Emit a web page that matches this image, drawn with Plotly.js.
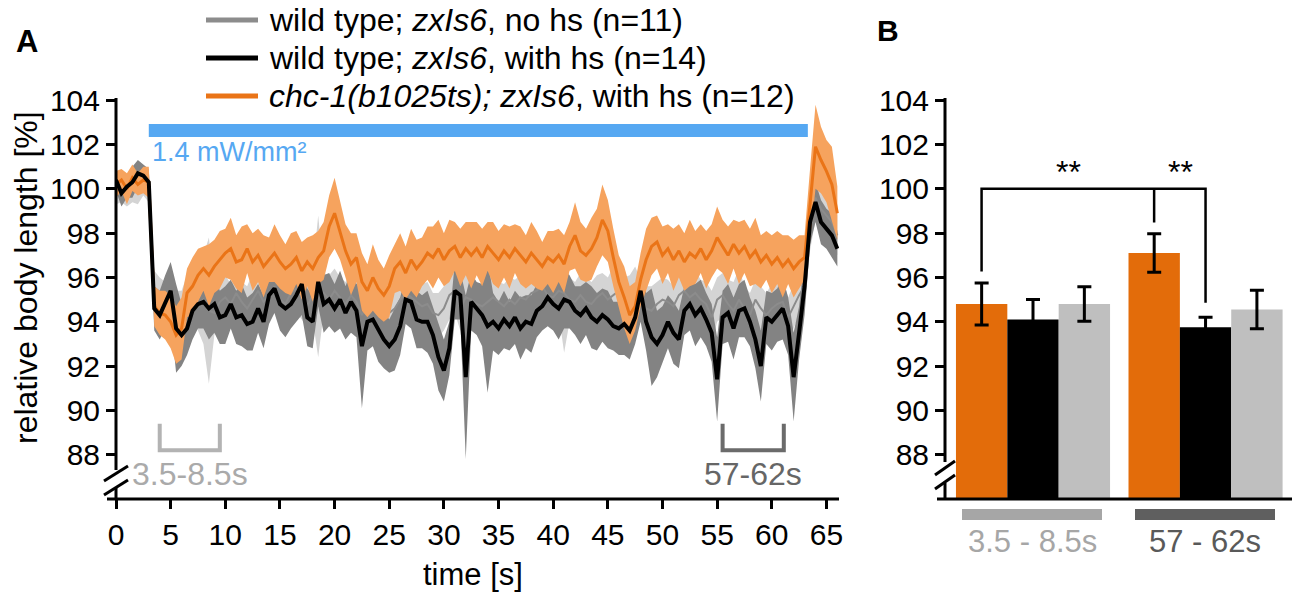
<!DOCTYPE html>
<html><head><meta charset="utf-8">
<script src="https://cdn.plot.ly/plotly-3.0.1.min.js"></script>
<style>html,body{margin:0;padding:0;background:#fff;} #chart{width:1300px;height:598px;}</style>
</head><body><div id="chart"></div>
<script>
// ---------- Panel A data (sampled every 0.5 s, t = 0 ... 66 s) ----------
const timeStep = 0.5;
const orangeMean = [
100.2,100.4,100.0,100.5,100.2,100.4,100.3,94.7,94.4,94.3,
94.0,93.4,93.7,95.3,95.6,96.1,96.4,96.1,96.5,96.8,
97.1,97.3,96.7,96.8,97.3,96.7,97.0,96.5,96.8,97.1,
96.7,96.4,96.6,96.9,96.3,96.7,96.4,96.9,97.2,98.3,
98.9,98.1,97.2,96.6,96.9,95.8,95.4,96.0,95.5,95.2,
95.6,96.4,96.7,96.2,96.8,96.4,96.7,97.1,96.9,97.3,
96.8,97.2,97.4,96.9,97.3,97.0,97.3,96.9,97.4,97.1,
96.8,97.2,96.9,97.3,97.0,96.7,97.1,96.8,96.5,96.9,
96.7,97.0,96.6,97.4,97.9,97.2,97.0,97.3,97.8,98.6,
98.1,96.9,95.8,95.1,94.3,94.7,95.9,96.8,97.4,97.6,
97.0,97.3,96.8,97.2,96.7,97.1,96.9,97.3,96.8,97.2,
97.8,97.4,97.0,97.5,97.1,97.4,96.9,97.2,96.7,97.0,
96.6,96.9,96.5,96.8,96.4,96.7,96.9,99.3,101.9,101.3,
100.8,100.2,98.9];
const orangeSem = [
0.6,0.5,0.7,0.6,0.5,0.6,0.7,0.9,1.0,1.1,
1.2,1.3,1.4,1.1,1.3,1.2,1.0,1.4,1.2,1.3,
1.1,1.4,1.2,1.5,1.1,1.3,1.2,1.4,1.0,1.3,
1.2,1.1,1.4,1.2,1.3,1.1,1.5,1.2,1.3,1.4,
1.6,1.3,1.2,1.4,1.1,1.3,1.2,1.5,1.3,1.2,
1.4,1.1,1.3,1.2,1.4,1.3,1.1,1.2,1.4,1.3,
1.2,1.4,1.1,1.3,1.2,1.5,1.2,1.3,1.1,1.4,
1.3,1.2,1.4,1.1,1.3,1.2,1.4,1.3,1.1,1.2,
1.4,1.2,1.3,1.1,1.5,1.3,1.2,1.4,1.3,1.6,
1.4,1.3,1.2,1.4,1.3,1.1,1.2,1.4,1.3,1.2,
1.3,1.1,1.4,1.2,1.3,1.5,1.2,1.1,1.3,1.2,
1.4,1.2,1.3,1.1,1.4,1.2,1.3,1.5,1.2,1.1,
1.3,1.2,1.4,1.1,1.3,1.2,1.0,1.6,1.9,1.5,
1.4,1.7,1.2];
const blackMean = [
100.4,99.8,100.1,100.3,100.7,100.6,100.3,94.6,94.3,94.9,
95.4,93.7,93.4,93.7,94.5,94.8,94.9,94.6,94.8,94.2,
94.3,94.8,94.2,94.3,93.9,94.0,94.6,94.0,95.2,95.5,
94.8,94.6,94.8,95.2,95.7,94.2,94.0,95.8,94.8,95.0,
94.6,95.0,94.4,94.9,94.5,92.9,94.0,94.1,93.6,93.2,
92.9,93.2,93.8,95.0,94.9,94.1,94.0,94.0,93.4,92.4,
91.8,92.8,95.4,95.2,91.5,94.9,94.6,94.3,93.8,94.0,
93.7,94.1,93.8,94.2,93.7,94.0,93.9,94.5,94.7,95.1,
94.8,94.6,95.0,94.9,94.5,94.3,94.6,94.2,94.0,94.3,
94.1,93.8,93.7,93.9,93.6,94.2,95.4,94.0,93.3,93.0,
93.4,94.0,93.5,93.2,94.5,94.8,94.3,94.6,94.1,93.5,
91.4,94.2,94.4,93.7,94.5,94.6,94.0,93.2,92.0,94.2,
94.0,94.3,94.6,93.8,91.5,93.5,95.6,98.5,99.4,98.5,
98.2,97.9,97.3];
const blackSem = [
0.5,0.6,0.5,0.7,0.6,0.5,0.6,1.0,1.1,1.2,
1.3,2.0,1.4,1.2,1.3,1.1,1.2,1.4,1.3,1.2,
1.3,1.1,1.2,1.4,1.2,1.3,1.1,1.2,1.3,1.1,
1.2,1.3,1.1,1.2,1.4,1.3,1.2,1.1,1.3,1.2,
1.1,1.3,1.2,1.4,1.2,2.8,1.3,1.2,1.4,1.3,
1.2,1.4,1.3,1.1,1.2,1.3,1.2,1.4,1.3,1.5,
1.4,1.2,1.3,1.1,3.7,1.3,1.2,1.4,3.0,1.3,
1.2,1.3,1.1,1.2,1.4,1.2,1.3,1.2,1.1,1.3,
1.2,1.4,1.3,1.2,1.1,1.3,1.2,1.4,1.3,1.2,
1.3,1.1,1.2,1.4,1.3,1.2,1.4,1.3,2.2,1.5,
1.3,1.2,1.4,1.3,1.1,1.2,1.4,1.3,1.2,1.3,
1.9,1.2,1.3,1.4,1.2,1.3,1.1,1.3,1.6,1.2,
1.3,1.2,1.4,1.3,2.0,1.2,1.3,1.0,0.9,1.0,
0.9,1.0,0.8];
const grayMean = [
99.9,100.1,99.8,100.2,100.0,100.3,100.1,95.3,94.9,94.6,
94.8,94.3,94.4,94.9,95.1,94.7,95.0,94.5,94.4,94.9,
95.1,94.8,95.3,94.9,94.6,95.0,95.4,94.9,95.2,95.6,
95.0,94.8,95.3,95.5,95.1,94.7,95.2,95.6,95.3,95.0,
95.4,95.1,94.8,95.2,94.9,94.3,94.8,94.9,94.5,94.2,
94.4,94.6,95.0,95.3,95.1,94.9,94.7,94.8,94.4,94.3,
94.6,95.2,95.4,94.6,95.1,95.0,94.8,94.7,94.9,95.1,
94.9,94.7,95.0,94.8,95.1,95.0,95.3,95.4,95.6,95.2,
95.1,95.4,95.3,95.0,94.9,95.2,94.9,94.8,95.1,95.3,
95.0,95.2,95.4,94.9,95.1,95.5,95.0,94.6,94.5,94.8,
95.0,94.9,94.7,95.2,95.4,95.1,95.3,95.0,94.8,94.2,
95.0,95.2,94.8,94.5,95.0,94.6,94.3,95.0,94.6,94.3,
94.6,94.8,94.9,94.2,94.7,95.2,95.6,98.3,99.6,99.1,
98.8,98.5,97.9];
const graySem = [
0.6,0.7,0.6,0.8,0.7,0.6,0.7,1.0,1.1,1.2,
1.8,1.1,1.0,1.2,1.0,1.1,2.0,3.3,1.0,0.9,
1.0,0.9,1.1,0.9,1.0,1.2,0.9,1.0,0.9,1.1,
1.0,1.0,0.9,1.1,1.0,1.0,1.1,3.2,0.9,1.1,
1.0,0.9,1.0,1.1,1.0,1.0,1.1,0.9,1.0,1.0,
1.1,1.0,0.9,1.0,1.0,1.1,1.0,1.0,0.9,1.0,
1.0,1.1,1.0,1.0,1.2,1.0,0.9,1.0,1.1,1.0,
0.9,1.0,1.0,1.1,1.0,1.0,0.9,1.1,1.0,1.0,
1.1,1.0,2.7,1.0,0.9,1.0,1.1,1.0,1.0,0.9,
1.0,1.3,1.4,1.1,1.0,1.0,0.9,1.0,1.1,1.0,
1.0,1.0,0.9,1.1,1.0,1.0,1.0,0.9,1.0,1.2,
1.0,1.0,1.1,1.3,1.4,1.0,1.0,0.9,1.0,1.0,
1.1,1.0,1.0,0.9,1.0,0.9,1.0,1.1,1.0,1.0,
0.9,1.1,0.9];
const timeTicks = [0,5,10,15,20,25,30,35,40,45,50,55,60,65];
const lengthTicks = [88,90,92,94,96,98,100,102,104];

// ---------- Panel B data ----------
const barGroups = ['3.5 - 8.5s', '57 - 62s'];
const barOrange = [94.8, 97.1];
const errOrange = [0.95, 0.87];
const barBlack = [94.1, 93.75];
const errBlack = [0.9, 0.45];
const barGray = [94.8, 94.55];
const errGray = [0.78, 0.87];

// ---------- helpers ----------
const W = 1300, H = 598;
const FONT = 'Liberation Sans, Arial, sans-serif';
const px = v => v / W;
const py = v => 1 - v / H;
const time = orangeMean.map((_, i) => i * timeStep);

function band(mean, sem, color) {
  const up = mean.map((m, i) => m + sem[i]);
  const lo = mean.map((m, i) => m - sem[i]);
  return {
    x: time.concat(time.slice().reverse()),
    y: up.concat(lo.slice().reverse()),
    type: 'scatter', mode: 'lines', fill: 'toself', fillcolor: color,
    line: {width: 0, color: color}, hoverinfo: 'skip', xaxis: 'x', yaxis: 'y'
  };
}
function meanLine(mean, color, width) {
  return {x: time, y: mean, type: 'scatter', mode: 'lines',
    line: {color: color, width: width}, xaxis: 'x', yaxis: 'y'};
}

const traces = [
  band(grayMean, graySem, '#d4d4d4'),
  band(blackMean, blackSem, '#838383'),
  meanLine(grayMean, '#8c8c8c', 2),
  band(orangeMean, orangeSem, '#f6a35e'),
  meanLine(orangeMean, '#ea7417', 3),
  meanLine(blackMean, '#000000', 4),
];

const barCommon = {type: 'bar', xaxis: 'x2', yaxis: 'y2', x: barGroups};
traces.push(Object.assign({}, barCommon, {y: barOrange, marker: {color: '#e36c0a'},
  error_y: {type: 'data', array: errOrange, color: '#000', thickness: 3, width: 7}}));
traces.push(Object.assign({}, barCommon, {y: barBlack, marker: {color: '#000000'},
  error_y: {type: 'data', array: errBlack, color: '#000', thickness: 3, width: 7}}));
traces.push(Object.assign({}, barCommon, {y: barGray, marker: {color: '#bfbfbf'},
  error_y: {type: 'data', array: errGray, color: '#000', thickness: 3, width: 7}}));

const axisBottom = 499, axisTop = 98;
const yDomain = [py(axisBottom), py(axisTop)];
const yRange = [86.0, 104.1];

function pline(x0, y0, x1, y1, color, width) {
  return {type: 'line', xref: 'paper', yref: 'paper', x0: px(x0), y0: py(y0), x1: px(x1), y1: py(y1),
    line: {color: color || '#000', width: width || 3}};
}

const shapes = [
  // Panel A axes with break
  pline(107, axisBottom, 839, axisBottom),
  pline(116, axisTop, 116, 470),
  pline(104, 481, 128, 466),
  pline(104, 495, 128, 480),
  pline(116, 488, 116, axisBottom),
  // Panel B axes with break
  pline(937, axisBottom, 1292, axisBottom),
  pline(945, axisTop, 945, 462),
  pline(935, 475, 955, 461),
  pline(935, 489, 955, 475),
  pline(945, 483, 945, axisBottom),
  // light stimulus bar
  {type: 'rect', xref: 'x', yref: 'y', x0: 3.0, x1: 63.3, y0: 102.34, y1: 102.93,
   fillcolor: '#56a8f2', line: {width: 0}},
  // analysis window brackets
  {type: 'path', xref: 'x', yref: 'y', path: 'M 4.0 89.4 L 4.0 88.2 L 9.5 88.2 L 9.5 89.4',
   line: {color: '#b3b3b3', width: 4}},
  {type: 'path', xref: 'x', yref: 'y', path: 'M 55.5 89.4 L 55.5 88.2 L 61.1 88.2 L 61.1 89.4',
   line: {color: '#6b6b6b', width: 4}},
  // legend swatches
  pline(206, 20, 258, 20, '#8c8c8c', 5),
  pline(206, 58, 258, 58, '#000000', 5),
  pline(206, 96, 258, 96, '#ea7417', 5),
  // significance brackets (B)
  {type: 'path', xref: 'x2', yref: 'y2',
   path: 'M -0.298 96.27 L -0.298 100.0 L 1.0 100.0 L 1.0 94.86 M 0.702 100.0 L 0.702 98.48',
   line: {color: '#000', width: 2.5}},
  // window bars under B
  {type: 'rect', xref: 'paper', yref: 'paper', x0: px(962), x1: px(1102), y0: py(520), y1: py(509),
   fillcolor: '#a6a6a6', line: {width: 0}},
  {type: 'rect', xref: 'paper', yref: 'paper', x0: px(1135), x1: px(1275), y0: py(520), y1: py(509),
   fillcolor: '#5f5f5f', line: {width: 0}},
];

function ann(text, x, y, opts) {
  return Object.assign({text: text, x: x, y: y, xref: 'paper', yref: 'paper', showarrow: false,
    xanchor: 'center', yanchor: 'middle', font: {family: FONT, size: 30, color: '#000'}}, opts || {});
}

const annotations = [
  ann('<b>A</b>', px(27), py(42), {font: {family: FONT, size: 31, color: '#000'}}),
  ann('<b>B</b>', px(888), py(31), {font: {family: FONT, size: 30, color: '#000'}}),
  ann('wild type; <i>zxIs6</i>, no hs (n=11)', px(267), py(20), {xanchor: 'left', font: {family: FONT, size: 32, color: '#000'}}),
  ann('wild type; <i>zxIs6</i>, with hs (n=14)', px(267), py(58), {xanchor: 'left', font: {family: FONT, size: 32, color: '#000'}}),
  ann('<i>chc-1(b1025ts); zxIs6</i>, with hs (n=12)', px(267), py(96), {xanchor: 'left', font: {family: FONT, size: 32, color: '#000'}}),
  ann('1.4 mW/mm²', 3.1, 101.67, {xref: 'x', yref: 'y', xanchor: 'left',
    font: {family: FONT, size: 27, color: '#56a8f2'}}),
  ann('3.5-8.5s', 6.77, 87.12, {xref: 'x', yref: 'y', font: {family: FONT, size: 32, color: '#aaaaaa'}}),
  ann('57-62s', 58.3, 87.12, {xref: 'x', yref: 'y', font: {family: FONT, size: 32, color: '#666666'}}),
  ann('time [s]', px(473), py(574), {font: {family: FONT, size: 31, color: '#000'}}),
  ann('relative body length [%]', px(26), py(278), {textangle: -90, font: {family: FONT, size: 32, color: '#000'}}),
  ann('**', 0.203, 100.75, {xref: 'x2', yref: 'y2', font: {family: FONT, size: 32, color: '#000'}}),
  ann('**', 0.852, 100.75, {xref: 'x2', yref: 'y2', font: {family: FONT, size: 32, color: '#000'}}),
  ann('3.5 - 8.5s', px(1032), py(541), {font: {family: FONT, size: 31, color: '#a6a6a6'}}),
  ann('57 - 62s', px(1205), py(541), {font: {family: FONT, size: 31, color: '#595959'}}),
];

const layout = {
  width: W, height: H, margin: {l: 0, r: 0, t: 0, b: 0},
  paper_bgcolor: '#fff', plot_bgcolor: '#fff', showlegend: false,
  font: {family: FONT, size: 30, color: '#000'},
  barmode: 'group', bargap: 0.107, bargroupgap: 0,
  xaxis: {domain: [px(116), px(839)], range: [0, 66.15], tickvals: timeTicks,
    ticks: 'outside', ticklen: 9, tickwidth: 3, tickcolor: '#000', showline: false,
    showgrid: false, zeroline: false, tickfont: {family: FONT, size: 30, color: '#000'},
    anchor: 'y', fixedrange: true},
  yaxis: {domain: yDomain, range: yRange, tickvals: lengthTicks,
    ticks: 'outside', ticklen: 9, tickwidth: 3, tickcolor: '#000', showline: false,
    showgrid: false, zeroline: false, tickfont: {family: FONT, size: 30, color: '#000'},
    anchor: 'x', fixedrange: true},
  xaxis2: {domain: [px(945), px(1292)], range: [-0.51, 1.501], type: 'category',
    showticklabels: false, ticks: '', showline: false, showgrid: false, zeroline: false,
    anchor: 'y2', fixedrange: true},
  yaxis2: {domain: yDomain, range: yRange, tickvals: lengthTicks,
    ticks: 'outside', ticklen: 9, tickwidth: 3, tickcolor: '#000', showline: false,
    showgrid: false, zeroline: false, tickfont: {family: FONT, size: 30, color: '#000'},
    anchor: 'x2', fixedrange: true},
  shapes: shapes,
  annotations: annotations,
};

Plotly.newPlot('chart', traces, layout, {staticPlot: true, displayModeBar: false});
</script>
</body></html>
